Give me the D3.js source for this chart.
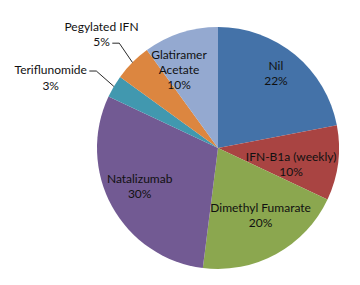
<!DOCTYPE html>
<html>
<head>
<meta charset="utf-8">
<script src="https://cdn.jsdelivr.net/npm/d3@7"></script>
<style>
  html, body { margin: 0; padding: 0; background: #fff; }
  svg { display: block; font-family: Lato, 'Open Sans', sans-serif; }
</style>
</head>
<body>
<div id="chart"></div>
<script>
(function(){
    'use strict';

    // data, clockwise from 12 o'clock
    var categories = ['Nil', 'IFN-B1a (weekly)', 'Dimethyl Fumarate', 'Natalizumab',
                      'Teriflunomide', 'Pegylated IFN', 'Glatiramer Acetate'];
    var shares = [22, 10, 20, 30, 3, 5, 10];
    var colours = ['#4472A8', '#A94442', '#8BA74F', '#725A93', '#4198AF', '#DC8640', '#94A9D0'];

    // label text lines (name split like the original)
    var labelLines = [['Nil'], ['IFN-B1a (weekly)'], ['Dimethyl Fumarate'], ['Natalizumab'],
                      ['Teriflunomide'], ['Pegylated IFN'], ['Glatiramer', 'Acetate']];
    // label radius as fraction of pie radius; 0 = outside with leader line
    var labelRadius = [0.78, 0.62, 0.66, 0.72, 0, 0, 0.72];
    var labelTurn = [-0.03, 0.1, -0.06, 0.05, 0, 0, -0.15];

    var W = 360, H = 285, cx = 218, cy = 148, R = 121;

    var svg = d3.select('#chart').append('svg').attr('width', W).attr('height', H);
    var g = svg.append('g').attr('transform', 'translate(' + cx + ',' + cy + ')');

    var pie = d3.pie().sort(null).value(function(d){ return d; });
    var arcs = pie(shares);
    var arc = d3.arc().innerRadius(0).outerRadius(R);

    g.selectAll('path.slice').data(arcs).enter()
        .append('path').attr('class', 'slice')
        .attr('d', arc)
        .attr('fill', function(d, i){ return colours[i]; });

    function polar(a, r) { return [Math.sin(a) * r, -Math.cos(a) * r]; }

    var fs = 12, lh = 15, ink = '#111';

    arcs.forEach(function(d, i){
        var mid = (d.startAngle + d.endAngle) / 2;
        var lines = labelLines[i].concat([shares[i] + '%']);
        var t;
        if (labelRadius[i] > 0) {
            var p = polar(mid + labelTurn[i], R * labelRadius[i]);
            t = g.append('text').attr('text-anchor', 'middle')
                .attr('font-size', fs).attr('fill', ink);
            lines.forEach(function(s, k){
                t.append('tspan').attr('x', p[0])
                    .attr('y', p[1] + (k - (lines.length - 1) / 2) * lh + 4)
                    .text(s);
            });
        } else {
            var edge = polar(mid, R);
            var elbow = polar(mid + 0.03, R * 1.19);
            var start = [elbow[0] - 7, elbow[1]];
            g.append('path')
                .attr('d', d3.line()([edge, elbow, start]))
                .attr('fill', 'none').attr('stroke', ink).attr('stroke-width', 0.9);
            t = g.append('text').attr('text-anchor', 'middle')
                .attr('font-size', fs).attr('fill', ink);
            // attach line: Pegylated to second line, Teriflunomide to first
            var attach = categories[i] === 'Pegylated IFN' ? 1 : 0;
            var tmp = t.append('tspan').text(lines[attach]);
            var w = tmp.node().getComputedTextLength();
            tmp.remove();
            var centreX = start[0] - 2.5 - w / 2;
            lines.forEach(function(s, k){
                t.append('tspan').attr('x', centreX)
                    .attr('y', start[1] + (k - attach) * (lh + 0.5) + 3)
                    .text(s);
            });
        }
    });
})();
</script>
</body>
</html>
